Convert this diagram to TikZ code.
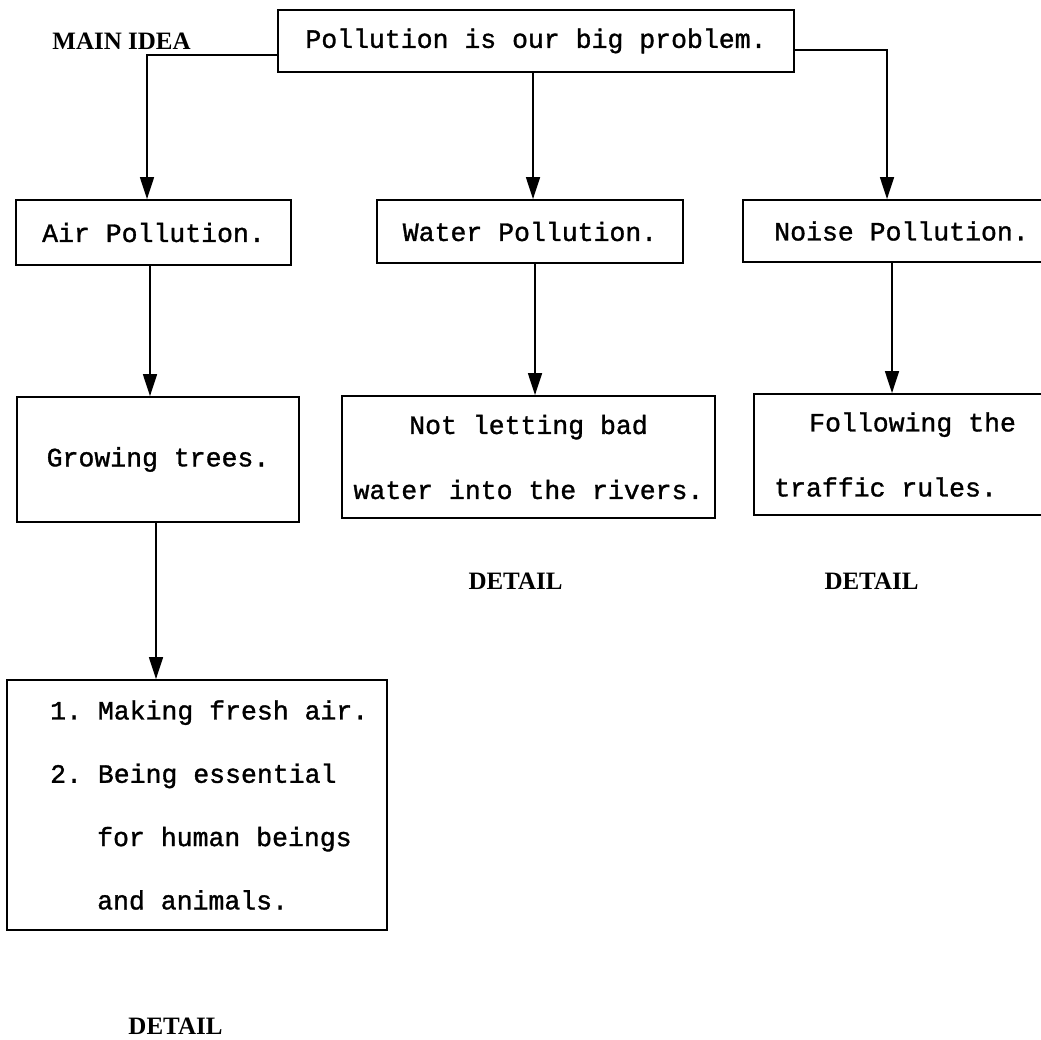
\documentclass[tikz,border=0pt]{standalone}
\usepackage{fontspec}
\setmainfont{Liberation Serif}
\newfontfamily\tw[UprightFeatures={FakeBold=1.2}]{Liberation Mono}
\usetikzlibrary{arrows.meta}
\frenchspacing
\begin{document}
\begin{tikzpicture}[x=1pt,y=-1pt,
  box/.style={draw, line width=1.8pt, inner sep=0pt},
  tt/.style={font=\tw\fontsize{26.5pt}{65pt}\selectfont\frenchspacing},
  lab/.style={font=\bfseries\fontsize{25pt}{30pt}\selectfont},
  arr/.style={line width=1.5pt, -{Triangle[length=22pt,width=14pt]}}]
\useasboundingbox (0,0) rectangle (1041,1040);
\clip (0,0) rectangle (1041,1040);
\fill[white] (0,0) rectangle (1041,1040);

\node[box, minimum width=516pt, minimum height=62pt, tt] (main) at (536,41) {Pollution is our big problem.};
\node[lab] (mainidea) at (121.5,41) {MAIN IDEA};

\node[box, minimum width=275pt, minimum height=65pt, tt] (air) at (153.5,232.5) {Air Pollution.};
\node[box, minimum width=306pt, minimum height=63pt, tt] (water) at (530,231.5) {Water Pollution.};
\node[box, minimum width=317pt, minimum height=62pt, tt] (noise) at (901.5,231) {Noise Pollution.};

\node[box, minimum width=282pt, minimum height=125pt, tt] (grow) at (158,459.5) {Growing trees.};
\node[box, minimum width=373pt, minimum height=122pt, tt, align=center] (waterd) at (528.5,457) {Not letting bad\\water into the rivers.};
\node[box, minimum width=306pt, minimum height=121pt] (noised) at (907,454.5) {};
\node[tt, align=left, anchor=west, inner sep=0pt] (noisedtxt) at (774,454.5) {\hspace*{35pt}Following the\\traffic rules.};

\node[box, minimum width=380pt, minimum height=250pt] (list) at (197,805) {};
\node[font=\tw\fontsize{26.5pt}{63.3pt}\selectfont\frenchspacing, align=left, anchor=west, inner sep=0pt] (listtxt) at (50,805)
  {1. Making fresh air.\\2. Being essential\\\hspace*{47pt}for human beings\\\hspace*{47pt}and animals.};

\node[lab] (d1) at (175.5,1026) {DETAIL};
\node[lab] (d2) at (515.5,581) {DETAIL};
\node[lab] (d3) at (871.5,581) {DETAIL};

\draw[arr] ([yshift=-14pt]main.west) -| ([xshift=-6.5pt]air.north);
\draw[arr] ([xshift=-3pt]main.south) -- ([xshift=3pt]water.north);
\draw[arr] ([yshift=-9pt]main.east) -| ([xshift=-14.5pt]noise.north);
\draw[arr] ([xshift=-3.5pt]air.south) -- ([xshift=-8pt]grow.north);
\draw[arr] ([xshift=5pt]water.south) -- ([xshift=6.5pt]waterd.north);
\draw[arr] ([xshift=-9.5pt]noise.south) -- ([xshift=-15pt]noised.north);
\draw[arr] ([xshift=-2pt]grow.south) -- ([xshift=-41pt]list.north);
\end{tikzpicture}
\end{document}
